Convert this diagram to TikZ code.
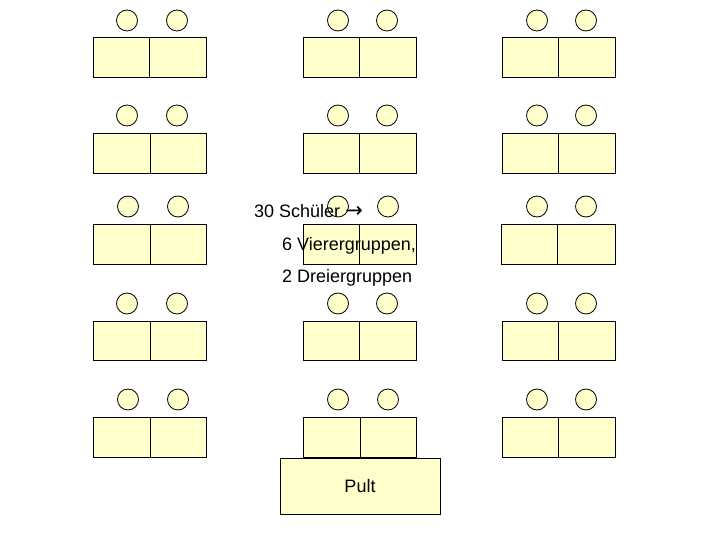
\documentclass[tikz,border=0pt]{standalone}
\usepackage{fontspec}
\setmainfont{Liberation Sans}
\newfontfamily\arrowfont{DejaVu Sans}
\tikzset{
  x=1pt,y=-1pt,
  deskpart/.style={draw=black,fill=deskyellow,line width=1pt},
  pupil/.style={draw=black,fill=deskyellow,line width=0.8pt},
  label/.style={anchor=base west,inner sep=0pt,font=\fontsize{18}{20}\selectfont,text=black}
}
\definecolor{deskyellow}{HTML}{FFFFCC}
% left, split, right, top, bottom, circle 1 x, circle 2 x, circle y
\newcommand{\deskpair}[8]{
  \draw[deskpart] (#1,#4) rectangle (#3,#5);
  \draw[line width=1pt] (#2,#4) -- (#2,#5);
  \draw[pupil] (#6,#8) circle (10.5);
  \draw[pupil] (#7,#8) circle (10.5);
}
\begin{document}
\begin{tikzpicture}
\useasboundingbox (0,0) rectangle (720,540);
\fill[white] (0,0) rectangle (720,540);
\begin{scope}[shift={(0,0.5)}]
% left column
\deskpair{93}{149}{206}{37}{77}{127}{177}{20}
\deskpair{93}{150}{206}{133}{173}{127}{177}{115}
\deskpair{93}{150}{206}{224}{264}{128}{178}{206}
\deskpair{93}{150}{206}{321}{360}{127}{177}{303}
\deskpair{93}{150}{206}{417}{457}{128}{178}{399}
% middle column
\deskpair{303}{359}{416}{37}{77}{338}{387}{20}
\deskpair{303}{359}{416}{133}{173}{338}{387}{115}
\deskpair{303}{359}{416}{224}{264}{338}{388}{206}
\deskpair{303}{359}{416}{321}{360}{338}{387}{303}
\deskpair{303}{360}{416}{417}{457}{338}{388}{399}
% right column
\deskpair{502}{558}{615}{37}{77}{537}{586}{20}
\deskpair{502}{558}{615}{133}{173}{537}{586}{115}
\deskpair{501}{557}{615}{224}{264}{537}{586}{206}
\deskpair{502}{558}{615}{321}{360}{537}{586}{303}
\deskpair{502}{558}{615}{417}{457}{537}{586}{399}
% teacher desk
\node[deskpart,minimum width=160pt,minimum height=56pt,inner sep=0pt,
      font=\fontsize{18}{20}\selectfont] (pult) at (360,486) {Pult};
% text
\node[label] (l1) at (254,217) {30 Schüler {\arrowfont\fontsize{21}{20}\selectfont →}};
\node[label] (l2) at (282,250.5) {6 Vierergruppen,};
\node[label] (l3) at (282,281.5) {2 Dreiergruppen};
\end{scope}
\end{tikzpicture}
\end{document}
